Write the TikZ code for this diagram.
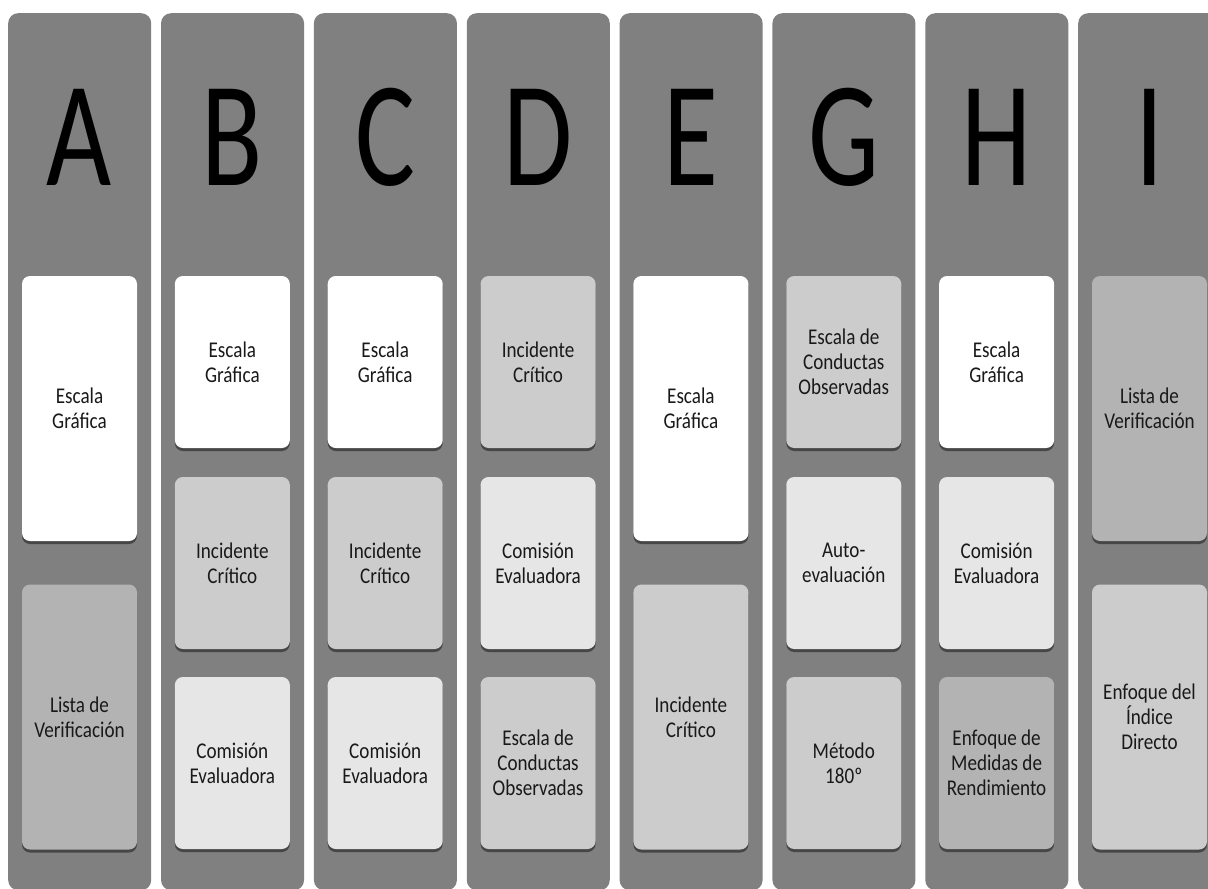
\documentclass[tikz,border=0pt]{standalone}
\usepackage{fontspec}
\setmainfont{Carlito}[FakeStretch=0.85]
\newfontfamily\letterfont{Carlito}[FakeStretch=0.75]
\usetikzlibrary{positioning, shadows}
\definecolor{cCol}{RGB}{128,128,128}
\definecolor{cLight}{RGB}{230,230,230}
\definecolor{cMid}{RGB}{204,204,204}
\definecolor{cDark}{RGB}{179,179,179}
\definecolor{cText}{RGB}{25,25,25}

\begin{document}
\begin{tikzpicture}[x=1pt, y=-1pt,
    column/.style={fill=cCol, rounded corners=10pt, minimum width=143pt, minimum height=877pt, anchor=north west, inner sep=0pt},
    letter/.style={font=\letterfont\fontsize{150}{150}\selectfont, anchor=base, inner sep=0pt},
    card/.style={rounded corners=8pt, minimum width=115pt, inner sep=2pt, align=center, text=cText,
        font=\fontsize{22.5}{25}\selectfont,
        drop shadow={shadow xshift=0pt, shadow yshift=-3pt, opacity=0.45, fill=black}},
    tall/.style={card, minimum height=265pt},
    short/.style={card, minimum height=172pt}]
    \useasboundingbox (0,0) rectangle (1208,889);

    % columns
    \node[column] (colA) at (8,13) {};
    \node[column] (colB) at (160.85,13) {};
    \node[column] (colC) at (313.7,13) {};
    \node[column] (colD) at (466.55,13) {};
    \node[column] (colE) at (619.4,13) {};
    \node[column] (colG) at (772.25,13) {};
    \node[column] (colH) at (925.1,13) {};
    \node[column] (colI) at (1078,13) {};

    % letters
    \node[letter] (letA) at (79.5,185) {A};
    \node[letter] (letB) at (232.35,185) {B};
    \node[letter] (letC) at (385.2,185) {C};
    \node[letter] (letD) at (538.05,185) {D};
    \node[letter] (letE) at (690.9,185) {E};
    \node[letter] (letG) at (843.75,185) {G};
    \node[letter] (letH) at (996.6,185) {H};
    \node[letter] (letI) at (1149.5,185) {I};

    % A
    \node[tall, fill=white] (a1) at (79.5,408.5) {Escala\\Gráfica};
    \node[tall, fill=cDark] (a2) at (79.5,717) {Lista de\\Verificación};
    % B
    \node[short, fill=white] (b1) at (232.35,362) {Escala\\Gráfica};
    \node[short, fill=cMid] (b2) at (232.35,563) {Incidente\\Crítico};
    \node[short, fill=cLight] (b3) at (232.35,763) {Comisión\\Evaluadora};
    % C
    \node[short, fill=white] (c1) at (385.2,362) {Escala\\Gráfica};
    \node[short, fill=cMid] (c2) at (385.2,563) {Incidente\\Crítico};
    \node[short, fill=cLight] (c3) at (385.2,763) {Comisión\\Evaluadora};
    % D
    \node[short, fill=cMid] (d1) at (538.05,362) {Incidente\\Crítico};
    \node[short, fill=cLight] (d2) at (538.05,563) {Comisión\\Evaluadora};
    \node[short, fill=cMid] (d3) at (538.05,763) {Escala de\\Conductas\\Observadas};
    % E
    \node[tall, fill=white] (e1) at (690.9,408.5) {Escala\\Gráfica};
    \node[tall, fill=cMid] (e2) at (690.9,717) {Incidente\\Crítico};
    % G
    \node[short, fill=cMid] (g1) at (843.75,362) {Escala de\\Conductas\\Observadas};
    \node[short, fill=cLight] (g2) at (843.75,563) {Auto-\\evaluación};
    \node[short, fill=cMid] (g3) at (843.75,763) {Método\\180º};
    % H
    \node[short, fill=white] (h1) at (996.6,362) {Escala\\Gráfica};
    \node[short, fill=cLight] (h2) at (996.6,563) {Comisión\\Evaluadora};
    \node[short, fill=cDark] (h3) at (996.6,763) {Enfoque de\\Medidas de\\Rendimiento};
    % I
    \node[tall, fill=cDark] (i1) at (1149.5,408.5) {Lista de\\Verificación};
    \node[tall, fill=cMid] (i2) at (1149.5,717) {Enfoque del\\Índice\\Directo};
\end{tikzpicture}
\end{document}
